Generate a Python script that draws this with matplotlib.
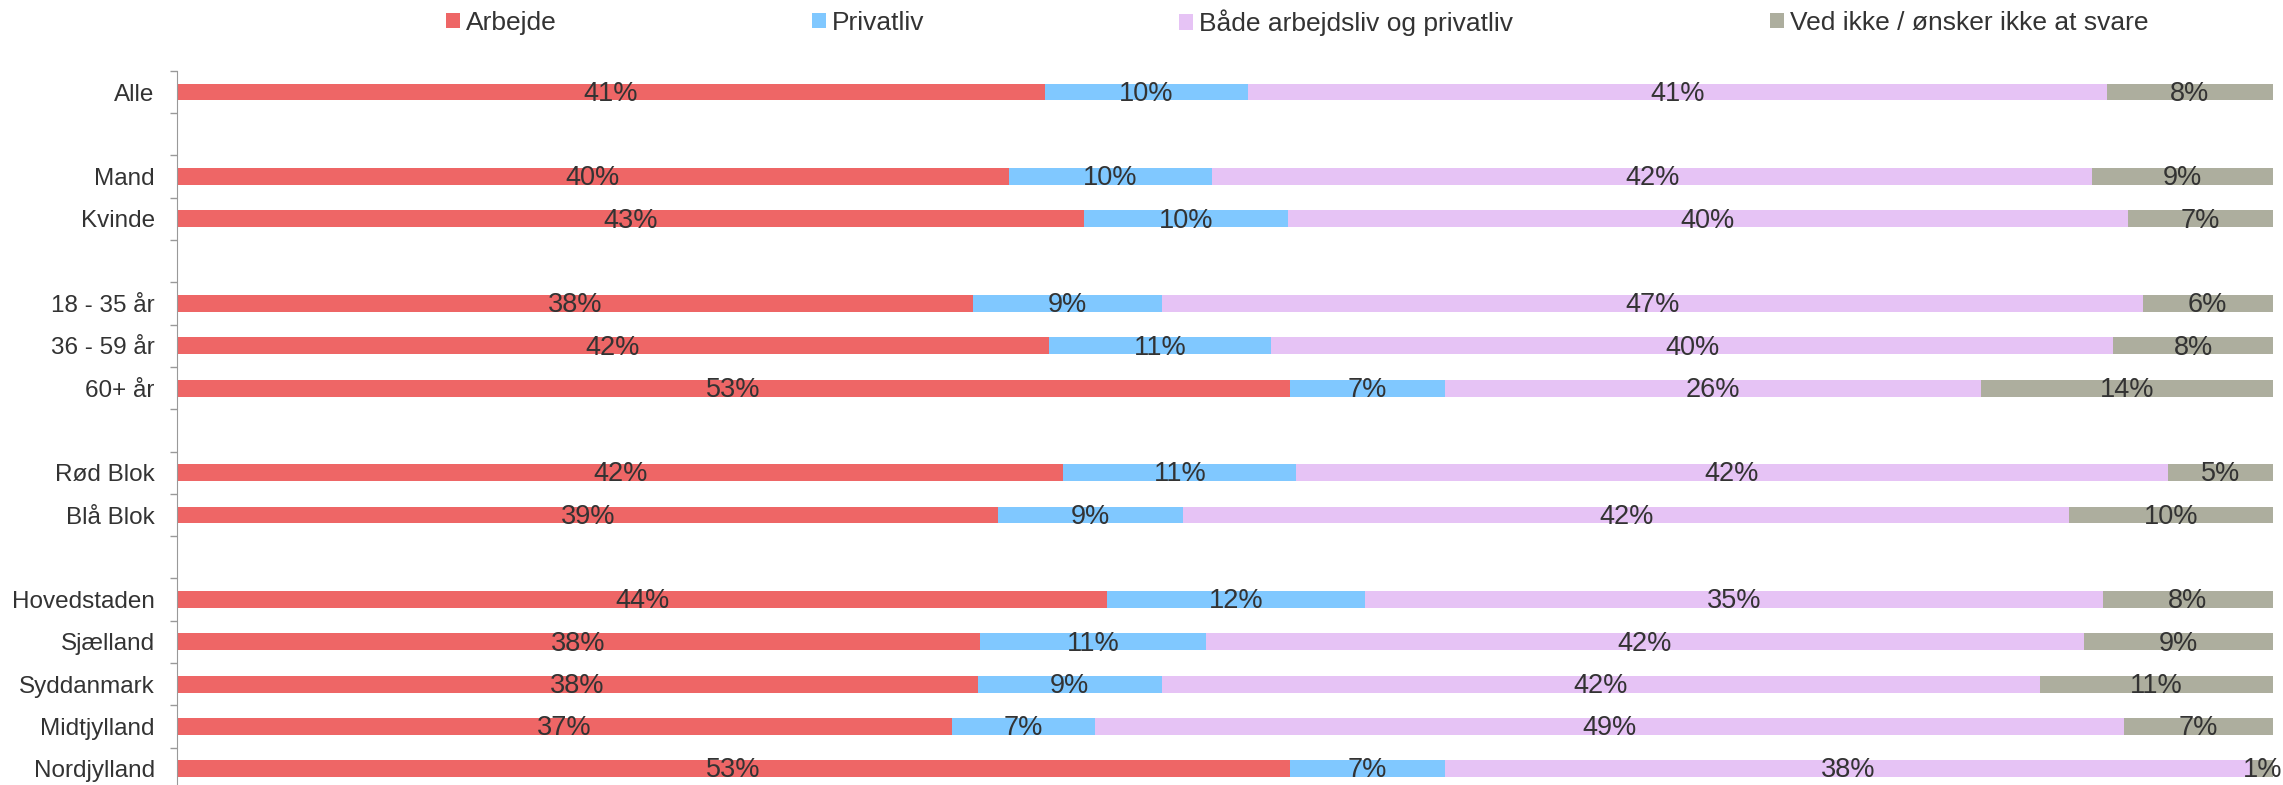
import numpy as np
import matplotlib.pyplot as plt

plt.rcParams['font.family'] = ['Liberation Sans', 'DejaVu Sans']

# Data (andel i %), '' = tom raekke mellem grupper
kategorier = ['Alle', '', 'Mand', 'Kvinde', '', '18 - 35 år', '36 - 59 år', '60+ år', '',
              'Rød Blok', 'Blå Blok', '', 'Hovedstaden', 'Sjælland', 'Syddanmark',
              'Midtjylland', 'Nordjylland']
arbejde = [41.4, None, 39.7, 43.3, None, 38.0, 41.6, 53.1, None, 42.3, 39.2, None,
           44.4, 38.3, 38.2, 37.0, 53.1]
privatliv = [9.7, None, 9.7, 9.7, None, 9.0, 10.6, 7.4, None, 11.1, 8.8, None,
             12.3, 10.8, 8.8, 6.8, 7.4]
begge = [41.0, None, 42.0, 40.1, None, 46.8, 40.2, 25.6, None, 41.6, 42.3, None,
         35.2, 41.9, 41.9, 49.1, 38.5]
vedikke = [7.9, None, 8.6, 6.9, None, 6.2, 7.6, 13.9, None, 5.0, 9.7, None,
           8.1, 9.0, 11.1, 7.1, 1.0]

serier = ['Arbejde', 'Privatliv', 'Både arbejdsliv og privatliv', 'Ved ikke / ønsker ikke at svare']
farver = ['#EE6666', '#80C8FF', '#E6C3F5', '#ADAE9E']
tekstfarve = '#333333'

fig = plt.figure(figsize=(22.83, 7.85), dpi=100)
ax = fig.add_axes([0.0775, -0.0063, 0.918, 0.916])

y = np.arange(len(kategorier))
venstre = np.zeros(len(kategorier))
handles = []
for navn, vals, farve in zip(serier, [arbejde, privatliv, begge, vedikke], farver):
    v = np.array([np.nan if x is None else x for x in vals], dtype=float)
    b = ax.barh(y, v, left=venstre, height=0.4, color=farve, label=navn)
    handles.append(b)
    for yi, (l, w) in enumerate(zip(venstre, v)):
        if np.isnan(w):
            continue
        ax.text(l + w / 2, yi + 0.04, f"{w:.0f}%", ha='center', va='center',
                fontsize=19.5, color=tekstfarve)
    venstre = venstre + np.nan_to_num(v)

ax.set_xlim(0, 100)
ax.set_ylim(len(kategorier) - 0.5, -0.5)
ax.set_yticks(y)
ax.set_yticklabels(kategorier, fontsize=17.5, color=tekstfarve)
ax.set_yticks(np.arange(len(kategorier) + 1) - 0.5, minor=True)
ax.tick_params(axis='y', which='major', length=0, pad=16)
ax.tick_params(axis='y', which='minor', length=5, color='#999999', width=1)
ax.xaxis.set_visible(False)
for s in ['top', 'right', 'bottom']:
    ax.spines[s].set_visible(False)
ax.spines['left'].set_color('#999999')

# legende - hver post for sig
leg_x = [446 / 2283, 812 / 2283, 1179 / 2283, 1770 / 2283]
for h, navn, lx in zip(handles, serier, leg_x):
    lg = fig.legend([h], [navn], loc='center left', bbox_to_anchor=(lx, 1 - 23 / 785),
                    frameon=False, fontsize=19, handlelength=0.53, handleheight=0.53,
                    handletextpad=0.23, borderpad=0, borderaxespad=0)
    for t in lg.get_texts():
        t.set_color(tekstfarve)

fig.savefig('out.png', dpi=100)
